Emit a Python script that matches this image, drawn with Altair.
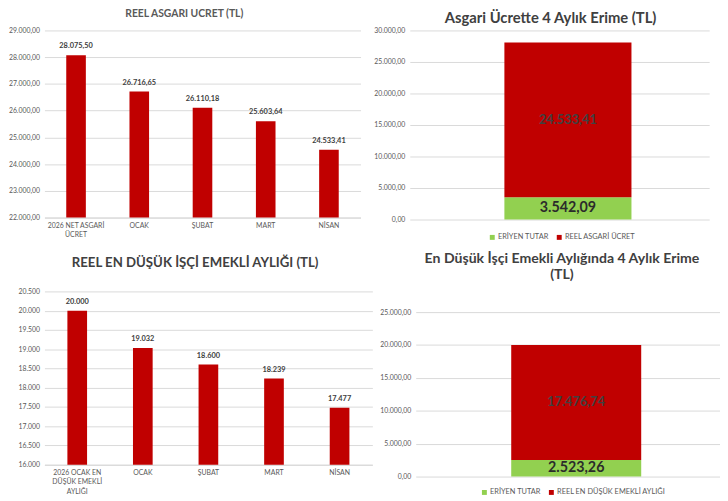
import altair as alt
import pandas as pd

FONT = "Lato"
RED = "#C00000"
GREEN = "#92D050"
GRID = "#D9D9D9"
LABEL = "#595959"
DARK = "#404040"

# ---- data ----
wage_cats = ["2026 NET ASGARİ\nÜCRET", "OCAK", "ŞUBAT", "MART", "NİSAN"]
wage_vals = [28075.50, 26716.65, 26110.18, 25603.64, 24533.41]

wage_split_series = ["ERİYEN TUTAR", "REEL ASGARİ ÜCRET"]
wage_split_vals = [3542.09, 24533.41]

pension_cats = ["2026 OCAK EN\nDÜŞÜK EMEKLİ\nAYLIĞI", "OCAK", "ŞUBAT", "MART", "NİSAN"]
pension_vals = [20000, 19032, 18600, 18239, 17476.74]

pension_split_series = ["ERİYEN TUTAR", "REEL EN DÜŞÜK EMEKLİ AYLIĞI"]
pension_split_vals = [2523.26, 17476.74]


def y_axis(extent, fmt, **kw):
    return alt.Axis(format=fmt, domain=False, ticks=False, gridColor=GRID,
                    labelFontSize=7, labelColor=LABEL, labelFont=FONT,
                    labelPadding=5, labelFlush=False, labelOverlap=False,
                    minExtent=extent, maxExtent=extent, **kw)


def bar_panel(cats, vals, title, dom, tick_count, fmt, w, h, extent, pi, po,
              title_fs, title_offset, title_color):
    df = pd.DataFrame({"cat": cats, "val": vals})
    base = alt.Chart(df)
    x = alt.X("cat:N", sort=cats, title=None,
              scale=alt.Scale(paddingInner=pi, paddingOuter=po),
              axis=alt.Axis(labelAngle=0, labelExpr="split(datum.label, '\\n')",
                            ticks=False, domainColor=GRID, labelPadding=4,
                            labelLineHeight=9.5, labelFontSize=7,
                            labelColor=LABEL, labelFont=FONT))
    y = alt.Y("val:Q", title=None,
              scale=alt.Scale(domain=dom, zero=False, nice=False),
              axis=y_axis(extent, fmt, tickCount=tick_count))
    bars = base.mark_bar(color=RED, clip=True).encode(x=x, y=y)
    text = base.mark_text(dy=-5, baseline="bottom", fontWeight="bold",
                          fontSize=7.5, color=DARK, font=FONT).encode(
        x=x, y=y, text=alt.Text("val:Q", format=fmt))
    return (bars + text).properties(
        width=w, height=h,
        title=alt.TitleParams(title, fontSize=title_fs, font=FONT,
                              fontWeight="bold", color=title_color,
                              anchor="middle", frame="bounds",
                              offset=title_offset))


def stack_panel(series, vals, title, dom, tick_vals, w, h, extent, po, align,
                title_fs, title_offset, title_dx, legend_x, legend_y,
                lab_fs, big_fs):
    df = pd.DataFrame({"grp": ["g", "g"], "series": series, "val": vals,
                       "ord": [0, 1]})
    base = alt.Chart(df).transform_stack(
        stack="val", as_=["y0", "y1"], groupby=["grp"],
        sort=[alt.SortField("ord", order="ascending")]
    ).transform_calculate(mid="(datum.y0 + datum.y1) / 2")
    x = alt.X("grp:N", axis=None,
              scale=alt.Scale(paddingInner=0, paddingOuter=po, align=align))
    yscale = alt.Scale(domain=dom, nice=False)
    yax = y_axis(extent, ",.2f", values=tick_vals)
    bars = base.mark_bar().encode(
        x=x,
        y=alt.Y("y0:Q", title=None, scale=yscale, axis=yax),
        y2="y1:Q",
        color=alt.Color("series:N",
                        scale=alt.Scale(domain=series, range=[GREEN, RED]),
                        legend=alt.Legend(title=None, orient="none",
                                          legendX=legend_x, legendY=legend_y,
                                          direction="horizontal",
                                          symbolType="square", symbolSize=25,
                                          symbolStrokeWidth=0,
                                          labelFontSize=7.5, labelColor=LABEL,
                                          labelFont=FONT, columnPadding=7,
                                          labelOffset=2)))
    big = base.transform_filter("datum.ord == 0").mark_text(
        fontWeight="bold", fontSize=big_fs, color="#2b2b2b", font=FONT
    ).encode(x=x, y=alt.Y("mid:Q", title=None, scale=yscale, axis=yax),
             text=alt.Text("val:Q", format=",.2f"))
    small = base.transform_filter("datum.ord == 1").mark_text(
        fontWeight="bold", fontSize=lab_fs, color=DARK, font=FONT
    ).encode(x=x, y=alt.Y("mid:Q", title=None, scale=yscale, axis=yax),
             text=alt.Text("val:Q", format=",.2f"))
    return (bars + big + small).properties(
        width=w, height=h,
        title=alt.TitleParams(title, fontSize=title_fs, font=FONT,
                              fontWeight="bold", color=DARK,
                              anchor="middle", frame="group", dx=title_dx,
                              offset=title_offset)
    ).resolve_scale(color="independent")


tl = bar_panel(wage_cats, wage_vals, "REEL ASGARİ ÜCRET (TL)", [22000, 29000], 7,
               ",.2f", 321, 190, 37, 0.69, 0.345, 10.5, 7, LABEL)
tr = stack_panel(wage_split_series, wage_split_vals,
                 "Asgari Ücrette 4 Aylık Erime (TL)", [0, 30000],
                 [0, 5000, 10000, 15000, 20000, 25000, 30000],
                 304, 192, 38, 0.678, 0.549, 15, 1, -9, 80, 206, 13, 14.5)
bl = bar_panel(pension_cats, pension_vals, "REEL EN DÜŞÜK İŞÇİ EMEKLİ AYLIĞI (TL)",
               [16000, 20500], 9, ",.0f", 333, 176, 26, 0.7, 0.35, 13.4, 18, DARK)
br = stack_panel(pension_split_series, pension_split_vals,
                 ["En Düşük İşçi Emekli Aylığında 4 Aylık Erime", "(TL)"],
                 [0, 28150], [0, 5000, 10000, 15000, 20000, 25000],
                 309, 188, 38, 0.6705, 0.548, 14.3, 9, -6, 66, 200, 13, 14.5)

top = alt.hconcat(tl, tr, spacing=12).resolve_scale(color="independent")
bottom = alt.hconcat(bl, br, spacing=6).resolve_scale(color="independent")

chart = alt.vconcat(top, bottom, spacing=11).resolve_scale(
    color="independent"
).properties(
    padding={"top": -3, "left": 0, "right": 0, "bottom": 0}
).configure(
    font=FONT,
    locale=alt.Locale(number=alt.NumberLocale(decimal=",", thousands=".",
                                              grouping=[3], currency=["", ""]))
).configure_view(stroke=None)

chart.save("out.html", embed_options={"renderer": "svg", "actions": False})
